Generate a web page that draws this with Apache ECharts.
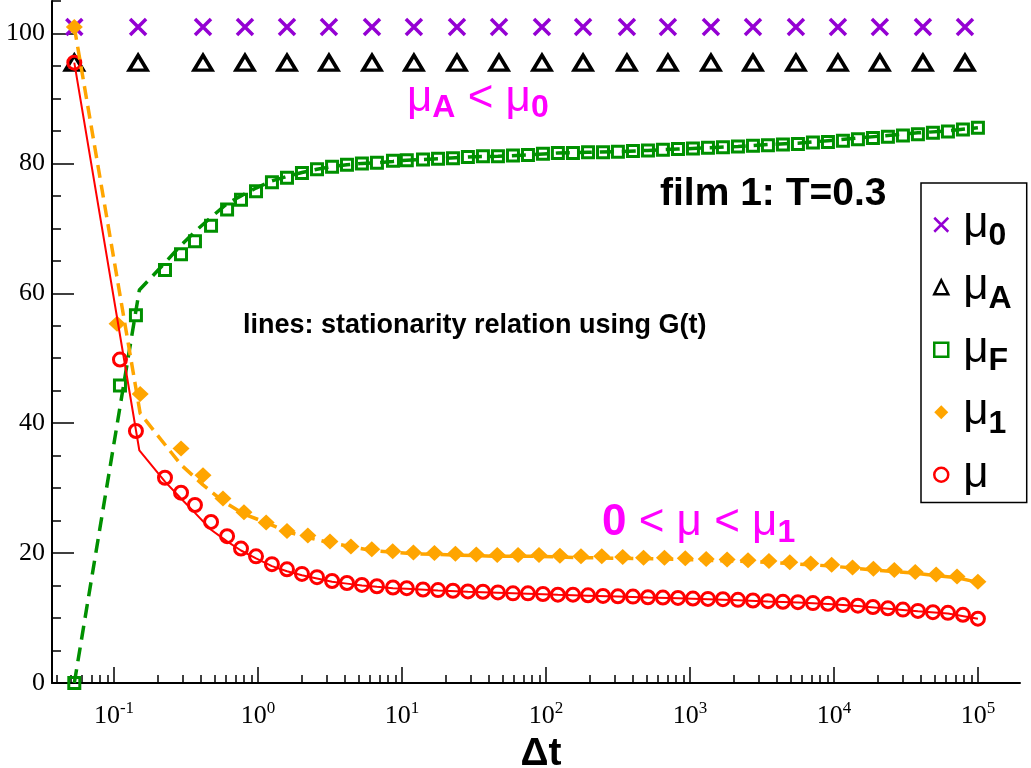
<!DOCTYPE html>
<html>
<head>
<meta charset="utf-8">
<script src="https://cdn.jsdelivr.net/npm/echarts@6/dist/echarts.min.js"></script>
<style>
  html, body { margin: 0; padding: 0; background: #fff; }
  #chart { width: 1031px; height: 768px; }
</style>
</head>
<body>
<div id="chart"></div>
<script>
// time grid of the mu / mu_F points
const tMu = [0.053, 0.110, 0.142, 0.226, 0.292, 0.365, 0.472, 0.610, 0.762, 0.969,
  1.25, 1.59, 2.02, 2.57, 3.27, 4.15, 5.27, 6.70, 8.66, 10.8,
  14.0, 17.8, 22.6, 28.7, 36.5, 46.4, 59.0, 75.0, 95.3, 121,
  154, 196, 249, 316, 402, 511, 649, 826, 1049, 1334,
  1695, 2155, 2739, 3481, 4424, 5623, 7148, 9087, 11548, 14679,
  18659, 23714, 30146, 38308, 48697, 61904, 78687, 100000]
const mu = [95.5, 49.8, 38.8, 31.6, 29.3, 27.4, 24.8, 22.6, 20.7, 19.5,
  18.3, 17.5, 16.8, 16.3, 15.7, 15.4, 15.1, 14.9, 14.7, 14.6,
  14.4, 14.3, 14.2, 14.1, 14.05, 13.95, 13.8, 13.8, 13.7, 13.6,
  13.6, 13.5, 13.4, 13.35, 13.3, 13.2, 13.15, 13.1, 13.0, 12.95,
  12.9, 12.8, 12.7, 12.6, 12.5, 12.45, 12.3, 12.2, 12.0, 11.9,
  11.7, 11.5, 11.3, 11.1, 10.9, 10.8, 10.5, 9.9]
const muF = [0, 45.8, 56.6, 63.6, 66.0, 68.0, 70.4, 72.9, 74.4, 75.7,
  77.1, 77.8, 78.5, 79.1, 79.5, 79.8, 80.0, 80.1, 80.4, 80.5,
  80.6, 80.7, 80.8, 81.0, 81.1, 81.1, 81.2, 81.3, 81.5, 81.6,
  81.6, 81.7, 81.7, 81.8, 81.9, 82.0, 82.1, 82.2, 82.3, 82.4,
  82.5, 82.6, 82.7, 82.8, 82.9, 83.0, 83.2, 83.3, 83.5, 83.7,
  83.9, 84.1, 84.3, 84.5, 84.7, 84.9, 85.2, 85.5]

// mu_1 points
const tMu1 = [0.053, 0.105, 0.152, 0.292, 0.415, 0.571, 0.799, 1.14, 1.59, 2.22,
  3.16, 4.42, 6.17, 8.62, 12.0, 16.8, 23.5, 32.8, 45.9, 64.0,
  89.5, 125, 175, 244, 341, 476, 665, 928, 1297, 1812,
  2531, 3535, 4937, 6898, 9636, 13460, 18800, 26270, 36690, 51260,
  71590, 100000]
const mu1 = [101, 55.3, 44.5, 36.1, 32.0, 28.4, 26.3, 24.7, 23.4, 22.7,
  21.8, 21.0, 20.6, 20.3, 20.1, 20.0, 19.9, 19.8, 19.7, 19.7,
  19.7, 19.6, 19.5, 19.5, 19.4, 19.3, 19.3, 19.2, 19.1, 19.0,
  18.9, 18.8, 18.6, 18.4, 18.2, 17.8, 17.6, 17.4, 17.1, 16.7,
  16.4, 15.6]

// mu_0 and mu_A
const tRef = [0.053, 0.147, 0.415, 0.812, 1.59, 3.11, 6.19, 12.1, 24.1, 47.2,
  93.8, 181, 365, 703, 1399, 2740, 5445, 10660, 20840, 41500, 81280]
const mu0 = [101, 101, 101, 101, 101, 101, 101, 101, 101, 101,
  101, 101, 101, 101, 101, 101, 101, 101, 101, 101, 101]
const muA = [95.5, 95.5, 95.5, 95.5, 95.5, 95.5, 95.5, 95.5, 95.5, 95.5,
  95.5, 95.5, 95.5, 95.5, 95.5, 95.5, 95.5, 95.5, 95.5, 95.5, 95.5]

// lines: stationarity relation
const tLine = [0.053, 0.15, 0.226, 0.292, 0.365, 0.472, 0.61, 0.762, 0.969, 1.25,
  1.59, 2.02, 2.57, 3.27, 4.15, 5.27, 6.7, 8.66, 10.8, 17.8,
  28.7, 46.4, 75, 121, 196, 316, 511, 826, 1334, 2155,
  3481, 5623, 9087, 14679, 23714, 38308, 61904, 100000]
const muLine = [95.5, 35.8, 31.0, 28.4, 26.2, 23.6, 21.8, 20.4, 19.2, 18.0,
  17.2, 16.6, 16.1, 15.6, 15.3, 15.0, 14.8, 14.6, 14.5, 14.25,
  14.05, 13.9, 13.75, 13.6, 13.45, 13.3, 13.15, 13.05, 12.9, 12.75,
  12.55, 12.4, 12.15, 11.85, 11.45, 11.05, 10.7, 9.9]
const muFLine = [0, 60.5, 64.7, 67.4, 69.5, 71.7, 73.8, 75.0, 76.2, 77.3,
  78.0, 78.6, 79.1, 79.5, 79.8, 80.0, 80.1, 80.3, 80.5, 80.7,
  81.0, 81.1, 81.3, 81.6, 81.7, 81.8, 82.0, 82.2, 82.4, 82.6,
  82.9, 83.1, 83.5, 83.9, 84.3, 84.7, 85.0, 85.5]
const tLine1 = [0.053, 0.152, 0.292, 0.415, 0.571, 0.799, 1.14, 1.59, 2.22, 3.16,
  6.17, 12.0, 23.5, 45.9, 89.5, 175, 341, 665, 1297, 2531,
  4937, 9636, 18800, 36690, 71590, 100000]
const mu1Line = [101, 41.5, 33.6, 30.5, 28.0, 26.0, 24.7, 23.3, 22.4, 21.6,
  20.4, 19.9, 19.7, 19.5, 19.5, 19.3, 19.2, 19.1, 18.9, 18.7,
  18.4, 18.0, 17.4, 16.9, 16.2, 15.5]

// axis ticks
const xMajor = [0.1, 1, 10, 100, 1000, 10000, 100000]
const xMinor = [0.04, 0.05, 0.06, 0.07, 0.08, 0.09]
xMajor.forEach(function (d) {
  for (let k = 2; k <= 9; k++) {
    if (d * k < 196000) xMinor.push(+(d * k).toPrecision(3))
  }
})
const yMajor = [0, 20, 40, 60, 80, 100]
const yMinor = [5, 10, 15, 25, 30, 35, 45, 50, 55, 65, 70, 75, 85, 90, 95, 105]

const VIOLET = '#9400d3'
const GREEN = '#009000'
const ORANGE = '#ffa500'
const RED = '#ff0000'
const MAGENTA = '#ff00ff'
const SANS = '"Liberation Sans", Arial, sans-serif'
const SERIF = '"Liberation Serif", "Times New Roman", serif'

const zip = (t, v) => t.map((x, i) => [x, v[i]])

// mu with a lowered subscript
const muRich = function (color, pad) {
  return {
    b: { fontSize: 44, fontWeight: 'bold', fontFamily: SANS, lineHeight: 44, verticalAlign: 'top', color: color, fill: color },
    m: { fontSize: 44, fontFamily: SANS, lineHeight: 44, verticalAlign: 'top', color: color, fill: color },
    s: { fontSize: 32, fontWeight: 'bold', fontFamily: SANS, lineHeight: 32, padding: [pad, 0, 0, 0], color: color, fill: color }
  }
}

const myChart = echarts.init(document.getElementById('chart'))

const xBase = {
  type: 'log',
  min: 0.0371,
  max: 196000,
  position: 'bottom',
  splitLine: { show: false }
}
const yBase = {
  type: 'value',
  min: 0,
  max: 105,
  position: 'left',
  offset: 0,
  splitLine: { show: false }
}

const legendRich = muRich('#000', 23.5)
legendRich.m.padding = [0, 0, 0, 10]

const option = {
  animation: false,
  grid: { left: 52, right: 11, top: 1, bottom: 85, containLabel: false, outerBoundsMode: 'none' },
  xAxis: [
    Object.assign({}, xBase, {
      axisLine: { lineStyle: { color: '#000', width: 2 } },
      axisTick: { inside: true, length: 16, customValues: xMajor, lineStyle: { color: '#000', width: 1.5 } },
      axisLabel: {
        customValues: xMajor,
        margin: 17,
        color: '#000',
        formatter: function (v) {
          return '{b|10}{p|' + Math.round(Math.log10(v)) + '}'
        },
        rich: {
          b: { fontSize: 26, fontFamily: SERIF, color: '#000' },
          p: { fontSize: 17, fontFamily: SERIF, color: '#000', padding: [0, 0, 16, 0] }
        }
      },
      name: 'Δt',
      nameLocation: 'middle',
      nameGap: 47,
      nameTextStyle: { fontSize: 39, fontWeight: 'bold', fontFamily: SANS, color: '#000', padding: [0, 0, 0, 10] }
    }),
    Object.assign({}, xBase, {
      axisLine: { show: false },
      axisTick: { inside: true, length: 8, customValues: xMinor, lineStyle: { color: '#000', width: 1.5 } },
      axisLabel: { show: false }
    })
  ],
  yAxis: [
    Object.assign({}, yBase, {
      axisLine: { show: true, lineStyle: { color: '#000', width: 2 } },
      axisTick: { show: true, inside: true, length: 22, customValues: yMajor, lineStyle: { color: '#000', width: 1.5 } },
      axisLabel: { customValues: yMajor, margin: 7, fontSize: 26, fontFamily: SERIF, color: '#000' }
    }),
    Object.assign({}, yBase, {
      axisLine: { show: false },
      axisTick: { show: true, inside: true, length: 9, customValues: yMinor, lineStyle: { color: '#000', width: 1.5 } },
      axisLabel: { show: false }
    })
  ],
  legend: {
    orient: 'vertical',
    left: 921,
    top: 183,
    padding: [14, 15, 0, 12],
    itemGap: 7,
    itemWidth: 14,
    itemHeight: 14,
    borderColor: '#000',
    borderWidth: 1.5,
    itemStyle: { borderWidth: 2.5 },
    data: ['μ0', 'μA', 'μF', 'μ1', 'μ'],
    formatter: function (name) {
      return '{m|μ}{s|' + (name.length > 1 ? name.slice(1) : ' ') + '}'
    },
    textStyle: { color: '#000', rich: legendRich }
  },
  graphic: [
    {
      type: 'text', left: 660, top: 175,
      style: { text: 'film 1: T=0.3', font: 'bold 39px ' + SANS, fill: '#000' }
    },
    {
      type: 'text', left: 243, top: 312,
      style: { text: 'lines: stationarity relation using G(t)', font: 'bold 27px ' + SANS, fill: '#000' }
    },
    {
      type: 'text', left: 407, top: 73,
      style: { text: '{m|μ}{s|A}{m| < μ}{s|0}', fill: MAGENTA, rich: muRich(MAGENTA, 19.5) }
    },
    {
      type: 'text', left: 602, top: 497,
      style: { text: '{b|0}{m| < μ < μ}{s|1}', fill: MAGENTA, rich: muRich(MAGENTA, 20) }
    }
  ],
  series: [
    {
      name: 'line μF', type: 'line', data: zip(tLine, muFLine), showSymbol: false, silent: true,
      lineStyle: { color: GREEN, width: 3.5, type: [14, 8] }
    },
    {
      name: 'line μ1', type: 'line', data: zip(tLine1, mu1Line), showSymbol: false, silent: true,
      lineStyle: { color: ORANGE, width: 3.5, type: [13, 7] }
    },
    {
      name: 'line μ', type: 'line', data: zip(tLine, muLine), showSymbol: false, silent: true,
      lineStyle: { color: RED, width: 2 }
    },
    {
      name: 'μ0', type: 'scatter', data: zip(tRef, mu0),
      symbol: 'path://M0,0L10,10M10,0L0,10', symbolSize: 16,
      itemStyle: { color: VIOLET, borderColor: VIOLET, borderWidth: 3.5, opacity: 1 }
    },
    {
      name: 'μA', type: 'scatter', data: zip(tRef, muA),
      symbol: 'triangle', symbolSize: [18, 15],
      itemStyle: { color: 'rgba(255,255,255,0)', borderColor: '#000', borderWidth: 3.5, opacity: 1 }
    },
    {
      name: 'μF', type: 'scatter', data: zip(tMu, muF),
      symbol: 'rect', symbolSize: 11,
      itemStyle: { color: 'rgba(255,255,255,0)', borderColor: GREEN, borderWidth: 3, opacity: 1 }
    },
    {
      name: 'μ1', type: 'scatter', data: zip(tMu1, mu1),
      symbol: 'diamond', symbolSize: [17, 16],
      itemStyle: { color: ORANGE, opacity: 1 }
    },
    {
      name: 'μ', type: 'scatter', data: zip(tMu, mu),
      symbol: 'circle', symbolSize: 13,
      itemStyle: { color: 'rgba(255,255,255,0)', borderColor: RED, borderWidth: 3, opacity: 1 }
    }
  ]
}

myChart.setOption(option)
window.addEventListener('resize', () => {
  myChart.resize()
})
</script>
</body>
</html>
